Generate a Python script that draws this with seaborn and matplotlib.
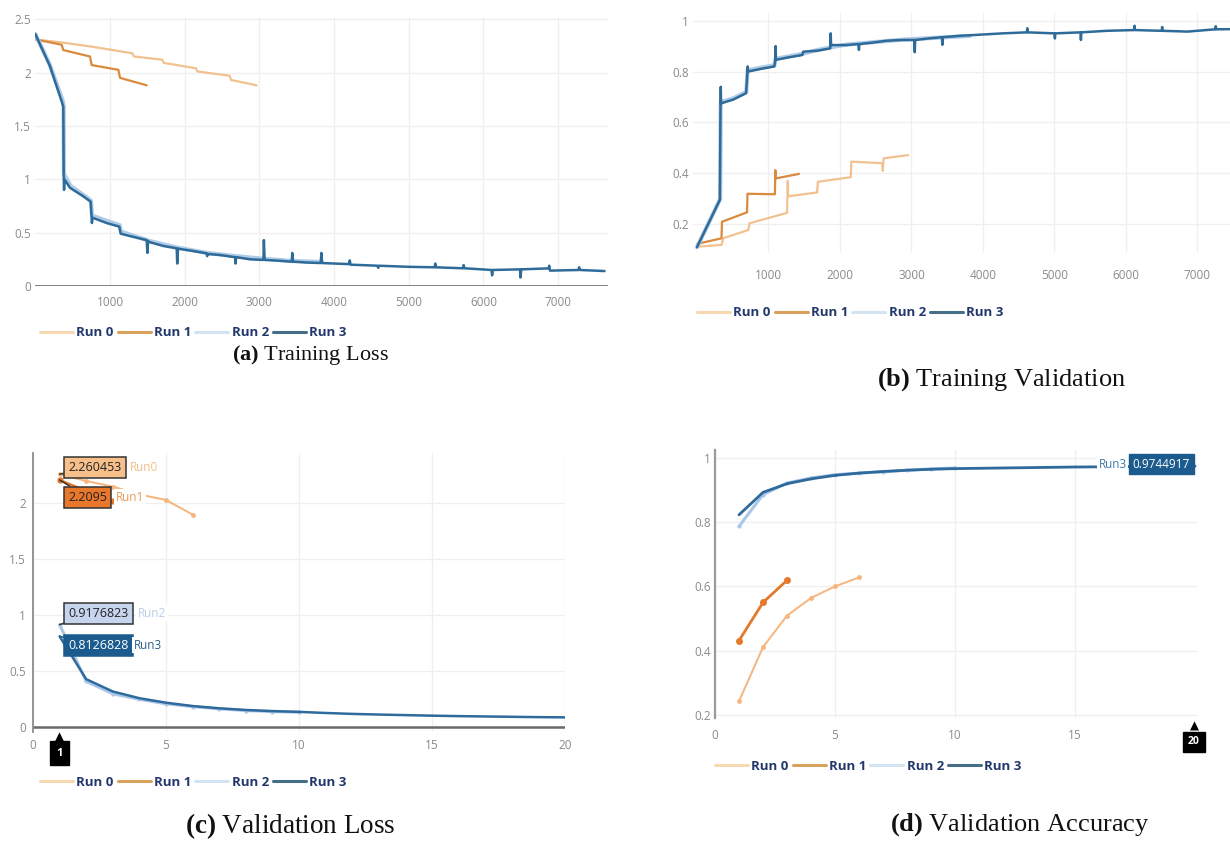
import numpy as np
import pandas as pd
import matplotlib
matplotlib.use("Agg")
import matplotlib.pyplot as plt
from matplotlib.lines import Line2D
import seaborn as sns

# ---------------- data ----------------
runs = ["Run 0", "Run 1", "Run 2", "Run 3"]

# (a) training loss vs step
tl_run0_step = [0, 375, 777, 1300, 1320, 1700, 1720, 2150, 2170, 2600, 2620, 2964]
tl_run0_val = [2.31, 2.28, 2.24, 2.18, 2.15, 2.12, 2.09, 2.04, 2.01, 1.97, 1.93, 1.88]
tl_run1_step = [0, 353, 375, 732, 754, 1112, 1134, 1491]
tl_run1_val = [2.31, 2.26, 2.21, 2.15, 2.07, 2.025, 1.95, 1.88]
tl_run2_step = [0, 190, 360, 378, 383, 470, 650, 745, 758, 960, 1130, 1146, 1320, 1540,
                1900, 2300, 2680, 3060, 3440, 3820]
tl_run2_val = [2.36, 2.08, 1.75, 1.70, 1.05, 0.94, 0.85, 0.80, 0.66, 0.61, 0.57, 0.51, 0.47, 0.42,
               0.36, 0.31, 0.28, 0.255, 0.235, 0.225]
tl_run3_step = [0, 196, 353, 375, 380, 385, 390, 464, 643, 741, 754, 758, 765, 955, 1125, 1143,
                1312, 1491, 1500, 1510, 1536, 1714, 1893, 1900, 1910, 2094, 2295, 2300, 2310,
                2473, 2674, 2680, 2690, 2875, 3054, 3060, 3070, 3232, 3433, 3440, 3450, 3634,
                3821, 3830, 3840, 4200, 4210, 4220, 4580, 4590, 4600, 4987, 5345, 5355, 5365,
                5726, 5735, 5745, 6108, 6115, 6125, 6489, 6495, 6505, 6870, 6880, 6890, 7274,
                7280, 7290, 7620]
tl_run3_val = [2.36, 2.06, 1.73, 1.68, 1.03, 0.90, 1.00, 0.92, 0.84, 0.79, 0.65, 0.59, 0.64, 0.59,
               0.556, 0.49, 0.46, 0.43, 0.31, 0.42, 0.41, 0.375, 0.353, 0.21, 0.35, 0.33, 0.306,
               0.28, 0.30, 0.29, 0.27, 0.21, 0.27, 0.25, 0.244, 0.43, 0.244, 0.238, 0.228, 0.31,
               0.228, 0.22, 0.215, 0.31, 0.215, 0.205, 0.24, 0.20, 0.19, 0.17, 0.19, 0.18, 0.175,
               0.21, 0.175, 0.166, 0.195, 0.166, 0.15, 0.10, 0.15, 0.156, 0.08, 0.156, 0.165,
               0.19, 0.144, 0.15, 0.175, 0.15, 0.14]

# (b) training accuracy vs step
ta_run0_step = [0, 343, 367, 720, 734, 1260, 1270, 1275, 1680, 1690, 2150, 2160, 2590, 2600,
                2610, 2955]
ta_run0_val = [0.112, 0.119, 0.145, 0.178, 0.204, 0.245, 0.37, 0.31, 0.325, 0.367, 0.385, 0.446,
               0.44, 0.41, 0.459, 0.472]
ta_run1_step = [0, 343, 350, 700, 706, 1090, 1096, 1100, 1426]
ta_run1_val = [0.123, 0.145, 0.21, 0.247, 0.32, 0.318, 0.413, 0.38, 0.398]
ta_run2_step = [0, 325, 332, 510, 690, 708, 890, 1085, 1098, 1290, 1480, 1690, 1870, 2090, 2460,
                2860, 3240, 3820]
ta_run2_val = [0.11, 0.30, 0.68, 0.695, 0.72, 0.805, 0.815, 0.825, 0.85, 0.86, 0.87, 0.885, 0.895,
               0.906, 0.915, 0.925, 0.931, 0.94]
ta_run3_step = [0, 320, 329, 333, 337, 508, 687, 706, 710, 714, 885, 1082, 1096, 1100, 1104,
                1285, 1473, 1487, 1685, 1864, 1870, 1876, 2085, 2259, 2265, 2271, 2461, 2650,
                2861, 3040, 3046, 3052, 3238, 3426, 3432, 3438, 3708, 3909, 4273, 4614, 4620,
                4626, 5000, 5006, 5012, 5364, 5370, 5376, 5727, 6114, 6120, 6126, 6500, 6506,
                6512, 6864, 7250, 7256, 7262, 7640]
ta_run3_val = [0.11, 0.296, 0.675, 0.74, 0.675, 0.69, 0.715, 0.80, 0.82, 0.80, 0.81, 0.82, 0.846,
               0.90, 0.846, 0.856, 0.865, 0.878, 0.882, 0.891, 0.95, 0.904, 0.904, 0.908, 0.885,
               0.908, 0.914, 0.921, 0.924, 0.924, 0.876, 0.924, 0.93, 0.935, 0.905, 0.935, 0.941,
               0.944, 0.95, 0.954, 0.97, 0.954, 0.95, 0.93, 0.95, 0.954, 0.924, 0.954, 0.96,
               0.963, 0.98, 0.963, 0.96, 0.975, 0.96, 0.957, 0.966, 0.978, 0.966, 0.967]

# (c) validation loss vs epoch
vl_run0 = [2.260453, 2.20, 2.15, 2.08, 2.03, 1.90]
vl_run1 = [2.2095, 2.11, 2.02]
vl_run2 = [0.9176823, 0.41, 0.30, 0.25, 0.21, 0.185, 0.165, 0.15, 0.14, 0.135]
vl_run3 = [0.8126828, 0.43, 0.32, 0.26, 0.22, 0.19, 0.17, 0.155, 0.145, 0.138, 0.128, 0.12,
           0.114, 0.109, 0.104, 0.100, 0.097, 0.094, 0.091, 0.089]

# (d) validation accuracy vs epoch
va_run0 = [0.242, 0.411, 0.509, 0.564, 0.60, 0.628]
va_run1 = [0.431, 0.55, 0.619]
va_run2 = [0.787, 0.886, 0.922, 0.938, 0.948, 0.953, 0.957, 0.962, 0.966, 0.969]
va_run3 = [0.823, 0.893, 0.92, 0.935, 0.946, 0.953, 0.958, 0.962, 0.965, 0.967, 0.968, 0.969,
           0.970, 0.971, 0.972, 0.9725, 0.973, 0.9735, 0.974, 0.9744917]

captions = ["(a)", "Training Loss", "(b)", "Training Validation",
            "(c)", "Validation Loss", "(d)", "Validation Accuracy"]

# ---------------- style ----------------
sns.set_theme(style="white")
plt.rcParams["font.family"] = ["Open Sans", "DejaVu Sans"]
plt.rcParams["mathtext.fontset"] = "custom"
plt.rcParams["mathtext.bf"] = "Liberation Serif:bold"
plt.rcParams["mathtext.rm"] = "Liberation Serif"

W, H = 1230, 842
fig = plt.figure(figsize=(W / 100, H / 100), dpi=100)


def px_ax(l, t, r, b):
    return fig.add_axes([l / W, 1 - b / H, (r - l) / W, (b - t) / H])


def fx(x):
    return x / W


def fy(y):
    return 1 - y / H


col_top = {"Run 0": "#f1c28f", "Run 1": "#d98a3d", "Run 2": "#aecbe8", "Run 3": "#2f6b99"}
col_bot = {"Run 0": "#f5b57c", "Run 1": "#e5782a", "Run 2": "#aac6e8", "Run 3": "#2e6a9c"}
leg_col = {"Run 0": "#f6d9b2", "Run 1": "#d9a25c", "Run 2": "#d3e3f2", "Run 3": "#466e86"}
TICK_C = "#8a8a8a"
GRID_C = "#efefef"


def style_axes(ax):
    for s in ax.spines.values():
        s.set_visible(False)
    ax.grid(True, color=GRID_C, lw=0.9)
    ax.set_axisbelow(True)
    ax.tick_params(length=0, labelsize=8.5, labelcolor=TICK_C)
    ax.set_xlabel("")
    ax.set_ylabel("")


def draw(ax, x, y, run, cols, lw, **kw):
    df = pd.DataFrame({"x": x, "y": y})
    sns.lineplot(data=df, x="x", y="y", ax=ax, color=cols[run], lw=lw,
                 estimator=None, sort=False, legend=False, **kw)


def add_legend(ax, x_px, y_px):
    handles = [Line2D([], [], color=leg_col[r], lw=2.2) for r in runs]
    leg = ax.legend(handles, runs, loc="center left",
                    bbox_to_anchor=(fx(x_px), fy(y_px)), bbox_transform=fig.transFigure,
                    ncol=4, frameon=False, handlelength=2.5, handletextpad=0.25,
                    columnspacing=0.3, borderaxespad=0, borderpad=0,
                    prop={"weight": "bold", "size": 9.5})
    for t in leg.get_texts():
        t.set_color("#22386c")


# ---------------- (a) Training Loss ----------------
axA = px_ax(35.3, 17, 607.5, 286)
draw(axA, tl_run0_step, tl_run0_val, "Run 0", col_top, 1.6)
draw(axA, tl_run1_step, tl_run1_val, "Run 1", col_top, 1.6)
draw(axA, tl_run2_step, tl_run2_val, "Run 2", col_top, 3.0)
draw(axA, tl_run3_step, tl_run3_val, "Run 3", col_top, 1.8)
axA.set_xlim(0, 7660)
axA.set_ylim(0, 2.52)
axA.set_xticks([1000, 2000, 3000, 4000, 5000, 6000, 7000])
axA.set_yticks([0, 0.5, 1, 1.5, 2, 2.5])
axA.set_yticklabels(["0", "0.5", "1", "1.5", "2", "2.5"])
style_axes(axA)
axA.axhline(0, color="#5a5a5a", lw=1.8, zorder=1)
axA.tick_params(axis="x", pad=7)
axA.tick_params(axis="y", pad=3)
add_legend(axA, 40, 333)

# ---------------- (b) Training Validation ----------------
axB = px_ax(693.4, 13, 1230, 252.3)
draw(axB, ta_run0_step, ta_run0_val, "Run 0", col_top, 1.6)
draw(axB, ta_run1_step, ta_run1_val, "Run 1", col_top, 1.6)
draw(axB, ta_run2_step, ta_run2_val, "Run 2", col_top, 3.0)
draw(axB, ta_run3_step, ta_run3_val, "Run 3", col_top, 1.8)
axB.set_xlim(-50, 7455)
axB.set_ylim(0.09, 1.03)
axB.set_xticks([1000, 2000, 3000, 4000, 5000, 6000, 7000])
axB.set_yticks([0.2, 0.4, 0.6, 0.8, 1.0])
axB.set_yticklabels(["0.2", "0.4", "0.6", "0.8", "1"])
style_axes(axB)
axB.tick_params(axis="x", pad=12)
axB.tick_params(axis="y", pad=3)
add_legend(axB, 697, 313)

# ---------------- (c) Validation Loss ----------------
axC = px_ax(33, 453, 565, 731.8)
draw(axC, range(1, len(vl_run0) + 1), vl_run0, "Run 0", col_bot, 1.4, marker="o", ms=3.5, mec="none")
draw(axC, range(1, len(vl_run1) + 1), vl_run1, "Run 1", col_bot, 1.8, marker="o", ms=4.5, mec="none")
draw(axC, range(1, len(vl_run2) + 1), vl_run2, "Run 2", col_bot, 2.2, marker="o", ms=3, mec="none")
draw(axC, range(1, len(vl_run3) + 1), vl_run3, "Run 3", col_bot, 1.8)
axC.set_xlim(0, 20)
axC.set_ylim(-0.04, 2.45)
axC.set_xticks([0, 5, 10, 15, 20])
axC.set_yticks([0, 0.5, 1, 1.5, 2])
axC.set_yticklabels(["0", "0.5", "1", "1.5", "2"])
style_axes(axC)
axC.spines["left"].set_visible(True)
axC.spines["left"].set_color("#8c8c8c")
axC.spines["left"].set_linewidth(1.3)
axC.axhline(0, color="#6a6a6a", lw=1.8, zorder=1)
axC.tick_params(axis="x", pad=5)
axC.tick_params(axis="y", pad=5)
add_legend(axC, 40, 782)

hover_c = [
    ("2.260453", vl_run0[0], 2.32, "#f7c08b", "#333333", "#222222", "Run0", "#f3bd86", 3.65),
    ("2.2095", vl_run1[0], 2.056, "#e8772b", "#333333", "#222222", "Run1", "#e99a55", 3.12),
    ("0.9176823", vl_run2[0], 1.02, "#c6d4ee", "#333333", "#222222", "Run2", "#b9cde8", 3.95),
    ("0.8126828", vl_run3[0], 0.735, "#1c5b8e", "#1c5b8e", "white", "Run3", "#2a5f8a", 3.8),
]
for txt, yv, ylab, fc, ec, tc, rn, rc, xr in hover_c:
    axC.annotate(txt, xy=(1, yv), xytext=(1.33, ylab), textcoords="data",
                 ha="left", va="center", fontsize=9, color=tc, zorder=10,
                 bbox=dict(boxstyle="square,pad=0.32", fc=fc, ec=ec, lw=1.1),
                 arrowprops=dict(arrowstyle="-", color=ec, lw=1.1, shrinkA=0, shrinkB=0))
    axC.text(xr, ylab, rn, ha="left", va="center", fontsize=8.5, color=rc, zorder=10,
             bbox=dict(boxstyle="square,pad=0.15", fc="white", ec="none"))

# tag at epoch 1
fig.text(fx(59.6), fy(753), "1", ha="center", va="center", fontsize=8, fontweight="bold",
         color="white", bbox=dict(boxstyle="square,pad=0.55", fc="black", ec="black"))
fig.text(fx(59.6), fy(737), "\u25B2", ha="center", va="center", fontsize=8.5,
         color="black", family="DejaVu Sans")

# ---------------- (d) Validation Accuracy ----------------
axD = px_ax(715, 450, 1197, 718)
draw(axD, range(1, len(va_run0) + 1), va_run0, "Run 0", col_bot, 1.4, marker="o", ms=3.5, mec="none")
draw(axD, range(1, len(va_run1) + 1), va_run1, "Run 1", col_bot, 2.0, marker="o", ms=5, mec="none")
draw(axD, range(1, len(va_run2) + 1), va_run2, "Run 2", col_bot, 2.2, marker="o", ms=3, mec="none")
draw(axD, range(1, len(va_run3) + 1), va_run3, "Run 3", col_bot, 2.0)
axD.set_xlim(0, 20.08)
axD.set_ylim(0.19, 1.025)
axD.set_xticks([0, 5, 10, 15])
axD.set_yticks([0.2, 0.4, 0.6, 0.8, 1.0])
axD.set_yticklabels(["0.2", "0.4", "0.6", "0.8", "1"])
style_axes(axD)
axD.spines["left"].set_visible(True)
axD.spines["left"].set_color("#9a9a9a")
axD.spines["left"].set_linewidth(1.6)
axD.tick_params(axis="x", pad=8)
axD.tick_params(axis="y", pad=3)
add_legend(axD, 715, 766)

axD.text(19.78, 0.981, "0.9744917", ha="right", va="center", fontsize=8.5, color="white",
         zorder=10, bbox=dict(boxstyle="square,pad=0.32", fc="#1c5b8e", ec="#1c5b8e"))
axD.text(17.15, 0.981, "Run3", ha="right", va="center", fontsize=8.5, color="#3f78a8",
         zorder=10, bbox=dict(boxstyle="square,pad=0.1", fc="white", ec="none"))

fig.text(fx(1194), fy(742), "20", ha="center", va="center", fontsize=7.5, fontweight="bold",
         color="white", bbox=dict(boxstyle="square,pad=0.45", fc="black", ec="black"))
fig.text(fx(1194), fy(726), "\u25B2", ha="center", va="center", fontsize=8.5,
         color="black", family="DejaVu Sans")

# ---------------- captions ----------------
cap_pos = [(310, 355, 16), (1002, 380, 19), (290, 826, 19.5), (1020, 825, 19)]
for i, (cx, cy, fs) in enumerate(cap_pos):
    lab, title = captions[2 * i], captions[2 * i + 1]
    fig.text(fx(cx), fy(cy), r"$\mathbf{" + lab + "}$ " + title, ha="center", va="center",
             fontsize=fs, family="Liberation Serif", color="#111111")

fig.savefig("out.png", dpi=100)
